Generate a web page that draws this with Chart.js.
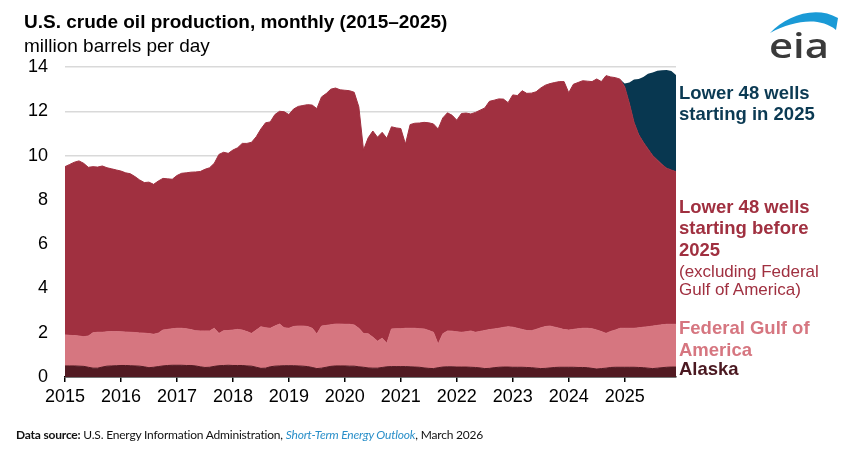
<!DOCTYPE html>
<html><head><meta charset="utf-8">
<script src="https://cdn.jsdelivr.net/npm/chart.js@4.4.1/dist/chart.umd.min.js"></script>
<style>
html,body{margin:0;padding:0;background:#fff;}
body{width:861px;height:465px;position:relative;overflow:hidden;font-family:"Liberation Sans",Arial,sans-serif;}
#wrap{position:absolute;left:0;top:0;width:861px;height:465px;}
.t{position:absolute;white-space:nowrap;line-height:1;}
.lb{font-weight:bold;font-size:18.5px;left:679px;}
</style></head><body>
<div id="wrap"><canvas id="c" width="861" height="465"></canvas></div>
<div class="t" style="left:24px;top:12px;font-weight:bold;font-size:19px;color:#000;">U.S. crude oil production, monthly (2015–2025)</div>
<div class="t" style="left:24px;top:36px;font-size:19px;color:#000;">million barrels per day</div>

<div class="t lb" style="top:83.6px;color:#0b3a53;">Lower 48 wells</div>
<div class="t lb" style="top:105.3px;color:#0b3a53;">starting in 2025</div>
<div class="t lb" style="top:197.6px;color:#a03040;">Lower 48 wells</div>
<div class="t lb" style="top:219.3px;color:#a03040;">starting before</div>
<div class="t lb" style="top:241px;color:#a03040;">2025</div>
<div class="t" style="left:679px;top:262.9px;font-size:17px;color:#a03040;">(excluding Federal</div>
<div class="t" style="left:679px;top:280.6px;font-size:17px;color:#a03040;">Gulf of America)</div>
<div class="t lb" style="top:319.3px;color:#d67680;">Federal Gulf of</div>
<div class="t lb" style="top:341px;color:#d67680;">America</div>
<div class="t lb" style="top:360.3px;color:#4a1820;">Alaska</div>

<div class="t" style="left:16px;top:428.5px;font-family:Lato,'Open Sans',sans-serif;font-size:12px;letter-spacing:-0.2px;color:#111;"><b>Data source:</b> U.S. Energy Information Administration, <i style="color:#2a8fc9;">Short-Term Energy Outlook</i>, March 2026</div>

<svg style="position:absolute;left:0;top:0;" width="861" height="70" viewBox="0 0 861 70">
  <path d="M770,33 C786,16 815,5 838,18 L836,30 C820,17 795,20 770,33 Z" fill="#1a9ad6"/>
  <text x="769" y="58" font-family="'Open Sans',sans-serif" font-weight="600" font-size="34" fill="#3a3a3a" textLength="60" lengthAdjust="spacingAndGlyphs">eia</text>
</svg>

<script>
const years = [2015,2016,2017,2018,2019,2020,2021,2022,2023,2024,2025];
const monthNames = ['Jan','Feb','Mar','Apr','May','Jun','Jul','Aug','Sep','Oct','Nov','Dec'];
const categories = [];
years.forEach(y => monthNames.forEach(m => categories.push(m + ' ' + y)));

// million barrels per day, monthly Jan 2015 - Dec 2025
const alaska = [
 0.50,0.50,0.50,0.49,0.48,0.44,0.40,0.40,0.45,0.49,0.50,0.51,
 0.52,0.52,0.51,0.50,0.49,0.46,0.42,0.44,0.47,0.50,0.52,0.53,
 0.53,0.53,0.52,0.52,0.50,0.46,0.43,0.44,0.48,0.51,0.52,0.53,
 0.52,0.52,0.52,0.50,0.49,0.44,0.39,0.40,0.46,0.49,0.50,0.51,
 0.51,0.51,0.50,0.49,0.47,0.43,0.38,0.40,0.44,0.48,0.50,0.50,
 0.50,0.49,0.49,0.46,0.44,0.41,0.40,0.40,0.43,0.46,0.47,0.47,
 0.47,0.47,0.46,0.45,0.44,0.41,0.39,0.38,0.42,0.45,0.46,0.46,
 0.45,0.45,0.45,0.44,0.43,0.41,0.38,0.39,0.42,0.44,0.45,0.45,
 0.44,0.44,0.44,0.43,0.42,0.40,0.38,0.39,0.41,0.43,0.44,0.44,
 0.44,0.44,0.43,0.43,0.42,0.39,0.36,0.38,0.40,0.43,0.44,0.44,
 0.44,0.44,0.44,0.43,0.42,0.40,0.38,0.40,0.42,0.44,0.45,0.45
];
const federalGulf = [
 1.40,1.38,1.37,1.36,1.34,1.41,1.60,1.62,1.57,1.55,1.55,1.54,
 1.52,1.51,1.51,1.51,1.50,1.52,1.54,1.49,1.51,1.62,1.63,1.65,
 1.67,1.67,1.66,1.62,1.59,1.62,1.65,1.64,1.72,1.46,1.57,1.57,
 1.60,1.63,1.60,1.55,1.48,1.68,1.88,1.82,1.74,1.81,1.89,1.71,
 1.69,1.77,1.80,1.81,1.81,1.77,1.56,1.90,1.89,1.88,1.89,1.89,
 1.88,1.89,1.86,1.74,1.53,1.54,1.40,1.22,1.32,1.06,1.70,1.71,
 1.71,1.73,1.74,1.75,1.74,1.76,1.71,1.64,1.06,1.50,1.62,1.61,
 1.59,1.57,1.59,1.64,1.59,1.65,1.72,1.75,1.75,1.76,1.79,1.82,
 1.81,1.76,1.71,1.67,1.67,1.75,1.84,1.89,1.89,1.82,1.76,1.70,
 1.68,1.71,1.75,1.77,1.78,1.79,1.76,1.67,1.57,1.63,1.68,1.76,
 1.76,1.76,1.76,1.79,1.83,1.87,1.92,1.93,1.94,1.94,1.93,1.93
];
const lower48Before = [
 7.60,7.72,7.83,7.91,7.83,7.62,7.50,7.46,7.51,7.41,7.35,7.30,
 7.26,7.19,7.16,7.04,6.91,6.80,6.84,6.77,6.87,6.85,6.80,6.75,
 6.90,7.00,7.04,7.11,7.17,7.20,7.30,7.37,7.45,8.08,8.06,8.00,
 8.13,8.20,8.43,8.50,8.63,8.73,8.93,9.26,9.32,9.55,9.61,9.76,
 9.65,9.82,9.92,9.96,10.02,10.08,10.18,10.35,10.47,10.64,10.66,10.58,
 10.57,10.55,10.51,10.00,8.28,8.85,9.31,9.21,9.30,9.26,9.13,9.07,
 9.04,8.32,9.20,9.26,9.29,9.33,9.38,9.41,9.72,9.75,9.85,9.75,
 9.56,9.88,9.88,9.80,9.93,9.99,10.05,10.31,10.33,10.36,10.31,10.12,
 10.49,10.51,10.78,10.71,10.73,10.73,10.83,10.90,10.95,11.05,11.14,11.20,
 10.72,11.07,11.12,11.18,11.16,11.16,11.34,11.29,11.64,11.49,11.40,11.25,
 10.91,10.16,9.30,8.73,8.35,8.03,7.70,7.47,7.24,7.05,6.97,6.89
];
const lower48New2025 = [
 0,0,0,0,0,0,0,0,0,0,0,0,
 0,0,0,0,0,0,0,0,0,0,0,0,
 0,0,0,0,0,0,0,0,0,0,0,0,
 0,0,0,0,0,0,0,0,0,0,0,0,
 0,0,0,0,0,0,0,0,0,0,0,0,
 0,0,0,0,0,0,0,0,0,0,0,0,
 0,0,0,0,0,0,0,0,0,0,0,0,
 0,0,0,0,0,0,0,0,0,0,0,0,
 0,0,0,0,0,0,0,0,0,0,0,0,
 0,0,0,0,0,0,0,0,0,0,0,0,
 0.15,0.94,1.94,2.51,2.95,3.39,3.75,4.03,4.25,4.44,4.47,4.37
];
const yTicks = [0,2,4,6,8,10,12,14];

const C_ALASKA = '#521a22', C_GULF = '#d67680', C_BEFORE = '#a03040', C_NEW = '#083750';

function ds(label, data, color, fill, bw) {
  return {label, data, backgroundColor: color, borderColor: color, borderWidth: bw,
          fill, pointRadius: 0, pointHoverRadius: 0, tension: 0};
}

new Chart(document.getElementById('c'), {
  type: 'line',
  data: {
    labels: categories,
    datasets: [
      ds('Alaska', alaska, C_ALASKA, 'origin', 1),
      ds('Federal Gulf of America', federalGulf, C_GULF, '-1', 1),
      ds('Lower 48 wells starting before 2025', lower48Before, C_BEFORE, '-1', 1),
      ds('Lower 48 wells starting in 2025', lower48New2025, C_NEW, '-1', 0)
    ]
  },
  options: {
    responsive: false,
    animation: false,
    layout: {padding: {left: 0, right: 185, top: 67, bottom: 48}},
    plugins: {legend: {display: false}, tooltip: {enabled: false}},
    scales: {
      x: {
        type: 'category',
        offset: false,
        afterFit: s => { s.height = 40; },
        border: {display: true, color: '#000', width: 1.5},
        grid: {display: true, drawOnChartArea: false, drawTicks: true, tickLength: 5, color: '#000', lineWidth: 1.5},
        ticks: {
          autoSkip: false, maxRotation: 0, minRotation: 0, padding: 4,
          color: '#000', font: {family: 'Liberation Sans', size: 18},
          callback: function(v, i) { return i % 12 === 0 ? years[i / 12].toString() : null; }
        }
      },
      y: {
        stacked: true,
        min: 0, max: 14,
        afterFit: s => { s.width = 65; },
        afterBuildTicks: s => { s.ticks = yTicks.map(v => ({value: v})); },
        border: {display: false},
        grid: {color: '#d9d9d9', lineWidth: 1.5, drawTicks: false},
        ticks: {padding: 17, color: '#000', font: {family: 'Liberation Sans', size: 18}}
      }
    }
  }
});
</script>
</body></html>
